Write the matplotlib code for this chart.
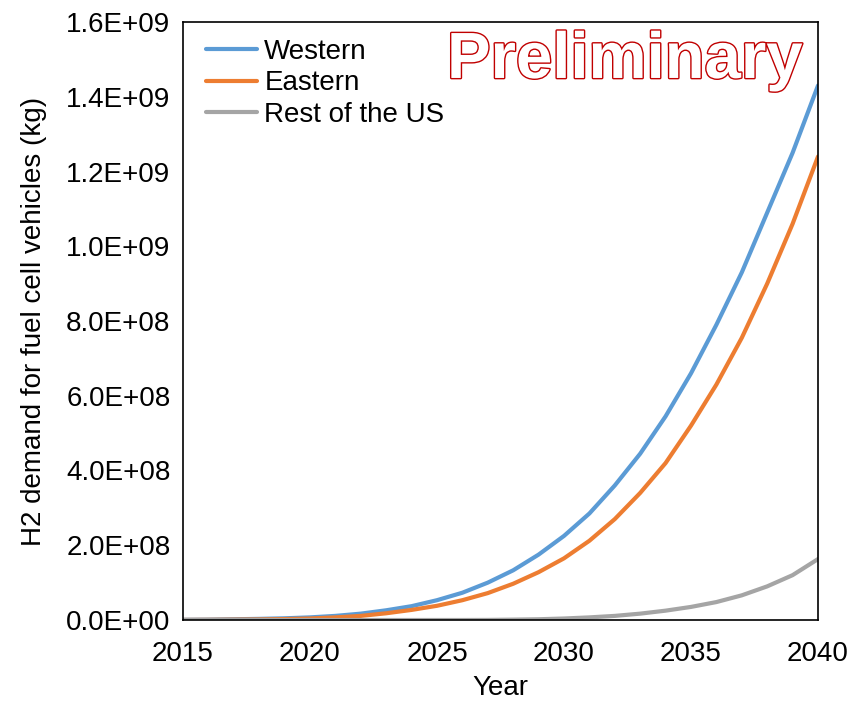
import matplotlib
matplotlib.use("Agg")
import matplotlib.pyplot as plt
import matplotlib.patheffects as pe
from matplotlib.ticker import FuncFormatter

plt.rcParams['font.family'] = ['Liberation Sans', 'DejaVu Sans']

years = list(range(2015, 2041))
western = [0.0005, 0.001, 0.002, 0.003, 0.0045, 0.007, 0.011, 0.017, 0.026, 0.037,
           0.053, 0.073, 0.100, 0.133, 0.175, 0.225, 0.285, 0.360, 0.445, 0.545,
           0.660, 0.790, 0.930, 1.090, 1.250, 1.430]
eastern = [0.0002, 0.0005, 0.001, 0.0015, 0.0025, 0.004, 0.007, 0.011, 0.018, 0.027,
           0.038, 0.053, 0.072, 0.097, 0.128, 0.165, 0.212, 0.270, 0.340, 0.420,
           0.520, 0.630, 0.755, 0.900, 1.060, 1.240]
rest_us = [0, 0, 0, 0, 0, 0, 0, 0, 0, 0,
           0, 0, 0.0002, 0.001, 0.002, 0.004, 0.007, 0.011, 0.017, 0.025,
           0.035, 0.048, 0.066, 0.090, 0.120, 0.163]
scale = 1e9
series_names = ["Western", "Eastern", "Rest of the US"]
colors = ["#5B9BD5", "#ED7D31", "#A5A5A5"]

fig = plt.figure(figsize=(8.52, 7.04), dpi=100)
ax = fig.add_axes([183/852, 1-620/704, (818-183)/852, (620-22)/704])

for vals, name, c in zip([western, eastern, rest_us], series_names, colors):
    ax.plot(years, [v*scale for v in vals], color=c, lw=3, label=name, solid_capstyle='round')

ax.set_xlim(2015, 2040)
ax.set_ylim(0, 1.6e9)
ax.set_xticks(range(2015, 2041, 5))
ax.set_yticks([i*2e8 for i in range(9)])

def fmt(v, pos):
    if v == 0:
        return "0.0E+00"
    e = int(f"{v:.1E}".split("E")[1])
    m = v / 10**e
    return f"{m:.1f}E+{e:02d}"
ax.yaxis.set_major_formatter(FuncFormatter(fmt))
ax.tick_params(length=0, labelsize=20)
ax.tick_params(axis='x', pad=15)
ax.tick_params(axis='y', pad=9)
for s in ax.spines.values():
    s.set_color('black')
    s.set_linewidth(1.2)

ax.set_xlabel("Year", fontsize=20, labelpad=6)
ax.set_ylabel("H2 demand for fuel cell vehicles (kg)", fontsize=20, labelpad=14)

leg = ax.legend(loc='upper left', frameon=False, fontsize=20, handlelength=1.85,
                handletextpad=0.25, labelspacing=0.2, borderaxespad=0.2,
                bbox_to_anchor=(0.01, 1.0))

ax.text(0.975, 0.985, "Preliminary", transform=ax.transAxes, ha='right', va='top',
        fontsize=47, fontweight='bold', color='white',
        path_effects=[pe.Stroke(linewidth=2.0, foreground='#C00000'), pe.Normal()])

fig.savefig("out.png", dpi=100)
